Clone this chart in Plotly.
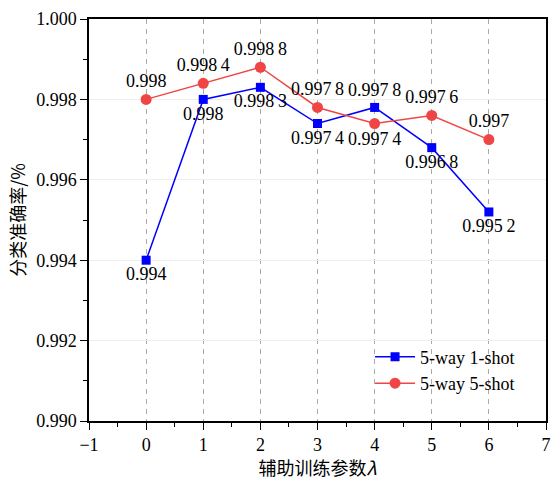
import plotly.graph_objects as go

x_vals = [0, 1, 2, 3, 4, 5, 6]
one_shot = [0.9940, 0.9980, 0.9983, 0.9974, 0.9978, 0.9968, 0.9952]
five_shot = [0.9980, 0.9984, 0.9988, 0.9978, 0.9974, 0.9976, 0.9970]
one_shot_text = ["0.994", "0.998", "0.998\u20093", "0.997\u20094", "0.997\u20098", "0.996\u20098", "0.995\u20092"]
five_shot_text = ["0.998", "0.998\u20094", "0.998\u20098", "0.997\u20098", "0.997\u20094", "0.997\u20096", "0.997"]
one_pos = ["bottom center", "bottom center", "bottom center", "bottom center", "top center", "bottom center", "bottom center"]
five_pos = ["top center", "top center", "top center", "top center", "bottom center", "top center", "top center"]
y_ticks = [0.990, 0.992, 0.994, 0.996, 0.998, 1.000]
x_ticks = [-1, 0, 1, 2, 3, 4, 5, 6, 7]

serif = "Liberation Serif"
cjk = "Noto Sans CJK SC"

fig = go.Figure()
fig.add_trace(go.Scatter(
    x=x_vals, y=one_shot, mode="lines+markers+text", name="5-way 1-shot",
    line=dict(color="#0000FF", width=1.5),
    marker=dict(symbol="square", size=9, color="#0000FF"),
    text=one_shot_text, textposition=one_pos,
    textfont=dict(family=serif, size=18, color="black"),
))
fig.add_trace(go.Scatter(
    x=x_vals, y=five_shot, mode="lines+markers+text", name="5-way 5-shot",
    line=dict(color="#F04545", width=1.5),
    marker=dict(symbol="circle", size=11, color="#F04545"),
    text=five_shot_text, textposition=five_pos,
    textfont=dict(family=serif, size=18, color="black"),
))

fig.update_layout(
    width=555, height=480,
    margin=dict(l=89, r=4, t=19, b=58),
    plot_bgcolor="white", paper_bgcolor="white",
    font=dict(family=serif, size=18, color="black"),
    legend=dict(x=0.615, y=0.205, xanchor="left", yanchor="top",
                bgcolor="rgba(0,0,0,0)", font=dict(family=serif, size=18),
                itemwidth=40, tracegroupgap=0),
    showlegend=True,
)
fig.update_xaxes(
    range=[-1, 7], tickmode="array", tickvals=x_ticks,
    ticktext=["\u22121" if v == -1 else str(v) for v in x_ticks],
    showline=True, linecolor="black", linewidth=1.5, mirror=True,
    ticks="outside", ticklen=7, tickwidth=1.2, tickcolor="black",
    showgrid=True, gridcolor="#aaaaaa", griddash="5px,5px", gridwidth=1,
    minor=dict(ticks="outside", ticklen=4, dtick=0.5, tickcolor="black", showgrid=False),
    zeroline=False,
    title=dict(text="辅助训练参数<i>λ</i>", font=dict(family=cjk, size=18), standoff=8),
    tickfont=dict(family=serif, size=18),
)
fig.update_yaxes(
    range=[0.990, 1.000], tickmode="array", tickvals=y_ticks,
    ticktext=[f"{v:.3f}" for v in y_ticks],
    showline=True, linecolor="black", linewidth=1.5, mirror=True,
    ticks="outside", ticklen=7, tickwidth=1.2, tickcolor="black",
    showgrid=True, gridcolor="#eeeeee", gridwidth=1,
    minor=dict(ticks="outside", ticklen=4, dtick=0.001, tickcolor="black", showgrid=False),
    zeroline=False,
    title=dict(text="分类准确率/%", font=dict(family=cjk, size=18), standoff=6),
    tickfont=dict(family=serif, size=18),
)

fig.write_html("out.html")
